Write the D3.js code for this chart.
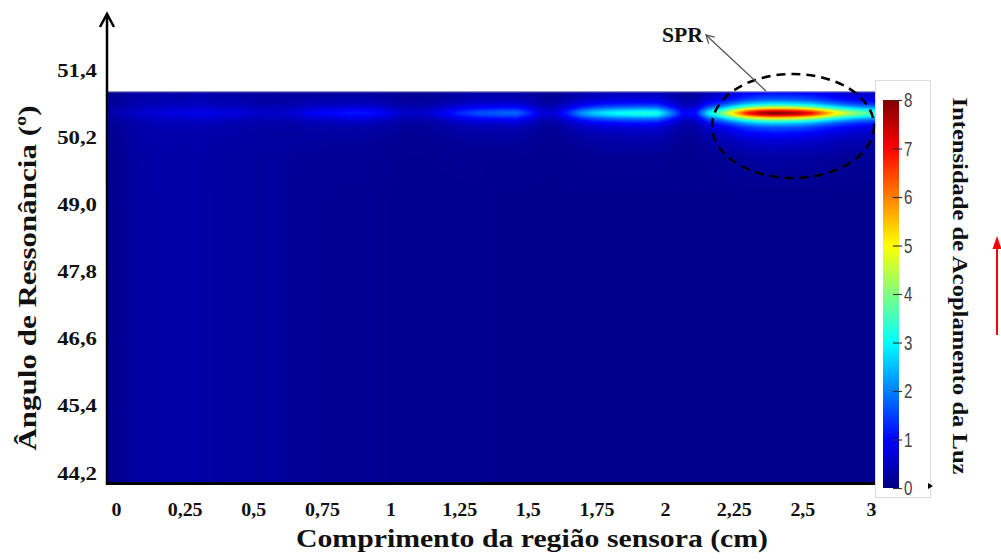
<!DOCTYPE html>
<html><head><meta charset="utf-8">
<script src="https://cdn.jsdelivr.net/npm/d3@7"></script>
<style>
body{margin:0;background:#fff}
svg{display:block}
.serif{font-family:"Liberation Serif","Times New Roman",serif;font-weight:bold;fill:#111}
</style>
</head><body>
<svg id="chart" width="1001" height="560"></svg>
<script>
// ---------------- DATA ----------------
// sensor length positions (cm) where the resonance band intensity was read
const positionsCm = [0,0.05,0.1,0.15,0.2,0.25,0.3,0.35,0.4,0.45,0.5,0.55,0.6,0.65,0.7,0.75,0.8,0.85,0.9,0.95,
  1,1.05,1.1,1.15,1.2,1.25,1.3,1.35,1.4,1.45,1.5,1.55,1.6,1.65,1.7,1.75,1.8,1.85,1.9,1.95,
  2,2.05,2.1,2.15,2.2,2.25,2.3,2.35,2.4,2.45,2.5,2.55,2.6,2.65,2.7,2.75,2.8,2.85,2.9,2.95,3];
// light coupling intensity at the resonance angle
const bandIntensity = [0.2,0.25,0.3,0.35,0.4,0.5,0.5,0.55,0.55,0.5,0.5,0.45,0.4,0.35,0.4,0.55,0.75,0.85,0.9,1.0,
  1.0,0.9,0.7,0.5,0.45,0.5,0.7,1.0,1.3,1.5,1.6,1.7,1.7,1.2,0.6,0.6,1.2,2.0,2.5,2.8,
  3.0,3.1,3.2,3.1,2.0,0.9,1.0,2.8,3.8,5.3,6.8,7.6,8.0,7.9,7.6,7.0,6.0,5.0,4.3,3.8,3.5];
// background coupling level away from resonance
const backgroundLevel = [0.12,0.15,0.25,0.28,0.3,0.3,0.28,0.3,0.28,0.25,0.25,0.22,0.2,0.22,0.2,0.18,0.18,0.16,0.15,0.15,
  0.15,0.14,0.13,0.12,0.12,0.12,0.12,0.12,0.12,0.12,0.1,0.1,0.1,0.1,0.1,0.1,0.1,0.1,0.1,0.1,
  0.1,0.1,0.1,0.1,0.1,0.1,0.1,0.1,0.1,0.1,0.1,0.1,0.1,0.1,0.1,0.1,0.1,0.1,0.1,0.1,0.1];
// resonance band: angular offset (deg) from the resonance angle and relative intensity
const profileOffsetDeg = [0,0.03,0.06,0.1,0.14,0.18,0.25,0.35,0.5,0.8,1.5];
const profileFactor    = [1,0.92,0.78,0.58,0.43,0.32,0.2,0.13,0.07,0.02,0];
const resonanceAngle = 50.63;
const angleExtent = [44.0, 51.02];
const lengthExtent = [0, 3];

const xTickLabels = ["0","0,25","0,5","0,75","1","1,25","1,5","1,75","2","2,25","2,5","3"];
const yTickValues = [44.2,45.4,46.6,47.8,49.0,50.2,51.4];
const colorbarTicks = [0,1,2,3,4,5,6,7,8];
const jetStops  = [0,1,3,5,7,8];
const jetColors = ["#000080","#0000ff","#00ffff","#ffff00","#ff0000","#800000"];

// ---------------- LAYOUT ----------------
const W = 1001, H = 560;
const plot = {left:107, right:875, top:91, bottom:484};
const svg = d3.select("#chart");
svg.append("rect").attr("width",W).attr("height",H).attr("fill","#fff");

const xScale = d3.scaleLinear().domain(lengthExtent).range([plot.left, plot.right]);
const yScale = d3.scaleLinear().domain([44.2, 51.4]).range([473, 70]);
const xLabelScale = d3.scalePoint().domain(xTickLabels).range([116, 871]);
const jet = d3.scaleLinear().domain(jetStops).range(jetColors).clamp(true);
const bandAt = d3.scaleLinear().domain(positionsCm).range(bandIntensity).clamp(true);
const baseAt = d3.scaleLinear().domain(positionsCm).range(backgroundLevel).clamp(true);
const profileAt = d3.scaleLinear().domain(profileOffsetDeg).range(profileFactor).clamp(true);

// ---------------- HEATMAP ----------------
const y0 = yScale(angleExtent[1]), y1 = yScale(angleExtent[0]);
const x0 = xScale(lengthExtent[0]), x1 = xScale(lengthExtent[1]);
const cw = Math.round(x1 - x0), ch = Math.round(y1 - y0);
const canvas = document.createElement("canvas");
canvas.width = cw; canvas.height = ch;
const ctx = canvas.getContext("2d");
const img = ctx.createImageData(cw, ch);
for (let r = 0; r < ch; r++) {
  const ang = yScale.invert(y0 + r + 0.5);
  const f = profileAt(Math.abs(ang - resonanceAngle));
  for (let c = 0; c < cw; c++) {
    const xv = xScale.invert(x0 + c + 0.5);
    const v = baseAt(xv) + bandAt(xv) * f;
    const col = d3.rgb(jet(v));
    const i = (r * cw + c) * 4;
    img.data[i] = col.r; img.data[i+1] = col.g; img.data[i+2] = col.b; img.data[i+3] = 255;
  }
}
ctx.putImageData(img, 0, 0);

// colorbar frame (behind)
svg.append("rect").attr("x",875.5).attr("y",80.5).attr("width",55).attr("height",417)
  .attr("fill","#fff").attr("stroke","#dcdcdc").attr("stroke-width",1);

svg.append("image").attr("x",x0).attr("y",y0).attr("width",cw).attr("height",ch)
  .attr("preserveAspectRatio","none").attr("href", canvas.toDataURL());
svg.append("line").attr("x1",x0).attr("x2",x1).attr("y1",y0+0.5).attr("y2",y0+0.5)
  .attr("stroke","#b0b0cc").attr("stroke-width",1);

// ---------------- AXES ----------------
const locale = d3.formatLocale({decimal:",", thousands:".", grouping:[3], currency:["",""]});
const fmt = locale.format(".1f");

const yAxis = svg.append("g").attr("class","serif").attr("transform",`translate(${plot.left},0)`)
  .call(d3.axisLeft(yScale).tickValues(yTickValues).tickSize(0).tickPadding(10).tickFormat(fmt));
yAxis.select(".domain").remove();
const sy = 1.2;
yAxis.selectAll("text").attr("font-size",19).attr("font-family","Liberation Serif, serif")
  .attr("font-weight","bold").attr("fill","#111")
  .attr("x", -10/sy).attr("transform",`scale(${sy},1)`);

const xAxis = svg.append("g").attr("transform",`translate(0,${plot.bottom})`)
  .call(d3.axisBottom(xLabelScale).tickSize(0).tickPadding(18.5));
xAxis.select(".domain").remove();
xAxis.selectAll("text").attr("font-size",19).attr("font-family","Liberation Serif, serif")
  .attr("font-weight","bold").attr("fill","#111").attr("transform","scale(1.05,1)");

// axis lines
svg.append("line").attr("x1",plot.left-1).attr("x2",plot.right).attr("y1",plot.bottom-0.5).attr("y2",plot.bottom-0.5)
  .attr("stroke","#000").attr("stroke-width",3);
svg.append("line").attr("x1",plot.left).attr("x2",plot.left).attr("y1",plot.bottom+1).attr("y2",15)
  .attr("stroke","#000").attr("stroke-width",2.5);
svg.append("path").attr("d",`M${plot.left-7},27L${plot.left},14L${plot.left+7},27`)
  .attr("fill","none").attr("stroke","#000").attr("stroke-width",2.5);

// titles
svg.append("text").attr("class","serif").attr("x",532).attr("y",547).attr("text-anchor","middle")
  .attr("font-size",26).attr("textLength",472).attr("lengthAdjust","spacingAndGlyphs")
  .text("Comprimento da região sensora (cm)");
svg.append("text").attr("class","serif").attr("transform","translate(36,278) rotate(-90)")
  .attr("text-anchor","middle").attr("font-size",26).attr("textLength",345).attr("lengthAdjust","spacingAndGlyphs")
  .text("Ângulo de Ressonância (º)");
svg.append("text").attr("class","serif").attr("transform","translate(953,286) rotate(90)")
  .attr("text-anchor","middle").attr("font-size",22).attr("textLength",377).attr("lengthAdjust","spacingAndGlyphs")
  .text("Intensidade de Acoplamento da Luz");

// ---------------- COLORBAR ----------------
const cScale = d3.scaleLinear().domain([0,8]).range([488,100]);
const grad = svg.append("defs").append("linearGradient").attr("id","jet")
  .attr("x1",0).attr("y1",1).attr("x2",0).attr("y2",0);
grad.selectAll("stop").data(jetStops).join("stop")
  .attr("offset",d => d/8).attr("stop-color",(d,i) => jetColors[i]);
svg.append("rect").attr("x",883).attr("y",cScale(8)).attr("width",16).attr("height",cScale(0)-cScale(8))
  .attr("fill","url(#jet)");
const cAxis = svg.append("g").attr("transform","translate(893,0)")
  .call(d3.axisRight(cScale).tickValues(colorbarTicks).tickSize(9).tickPadding(2).tickFormat(d3.format("d")));
cAxis.select(".domain").remove();
cAxis.selectAll("line").attr("stroke","#333").attr("stroke-width",1.2);
const sc = 0.72;
cAxis.selectAll("text").attr("font-size",21).attr("font-family","Liberation Sans, Arial, sans-serif")
  .attr("fill","#444").attr("x",11/sc).attr("transform",`scale(${sc},1)`);
svg.append("path").attr("d","M928,483L933,486L928,489Z").attr("fill","#000");

// ---------------- ANNOTATIONS ----------------
svg.append("ellipse").attr("cx",793).attr("cy",126).attr("rx",81).attr("ry",52)
  .attr("fill","none").attr("stroke","#000").attr("stroke-width",2.5).attr("stroke-dasharray","9,6");
const a0 = [766,91], a1 = [706,35];
svg.append("line").attr("x1",a0[0]).attr("y1",a0[1]).attr("x2",a1[0]).attr("y2",a1[1])
  .attr("stroke","#555").attr("stroke-width",1.3);
{
  const ang = Math.atan2(a1[1]-a0[1], a1[0]-a0[0]);
  const L = 9, s = Math.PI/6;
  const p1 = [a1[0]-L*Math.cos(ang-s), a1[1]-L*Math.sin(ang-s)];
  const p2 = [a1[0]-L*Math.cos(ang+s), a1[1]-L*Math.sin(ang+s)];
  svg.append("path").attr("d",`M${p1}L${a1}L${p2}`).attr("fill","none").attr("stroke","#555").attr("stroke-width",1.3);
}
svg.append("text").attr("class","serif").attr("x",662).attr("y",42).attr("font-size",21)
  .attr("textLength",41).attr("lengthAdjust","spacingAndGlyphs").text("SPR");

// red arrow at right edge
svg.append("line").attr("x1",997).attr("x2",997).attr("y1",335).attr("y2",246)
  .attr("stroke","#ff0000").attr("stroke-width",2);
svg.append("path").attr("d","M997,236L992.5,249L1001.5,249Z").attr("fill","#ff0000");
</script>
</body></html>
